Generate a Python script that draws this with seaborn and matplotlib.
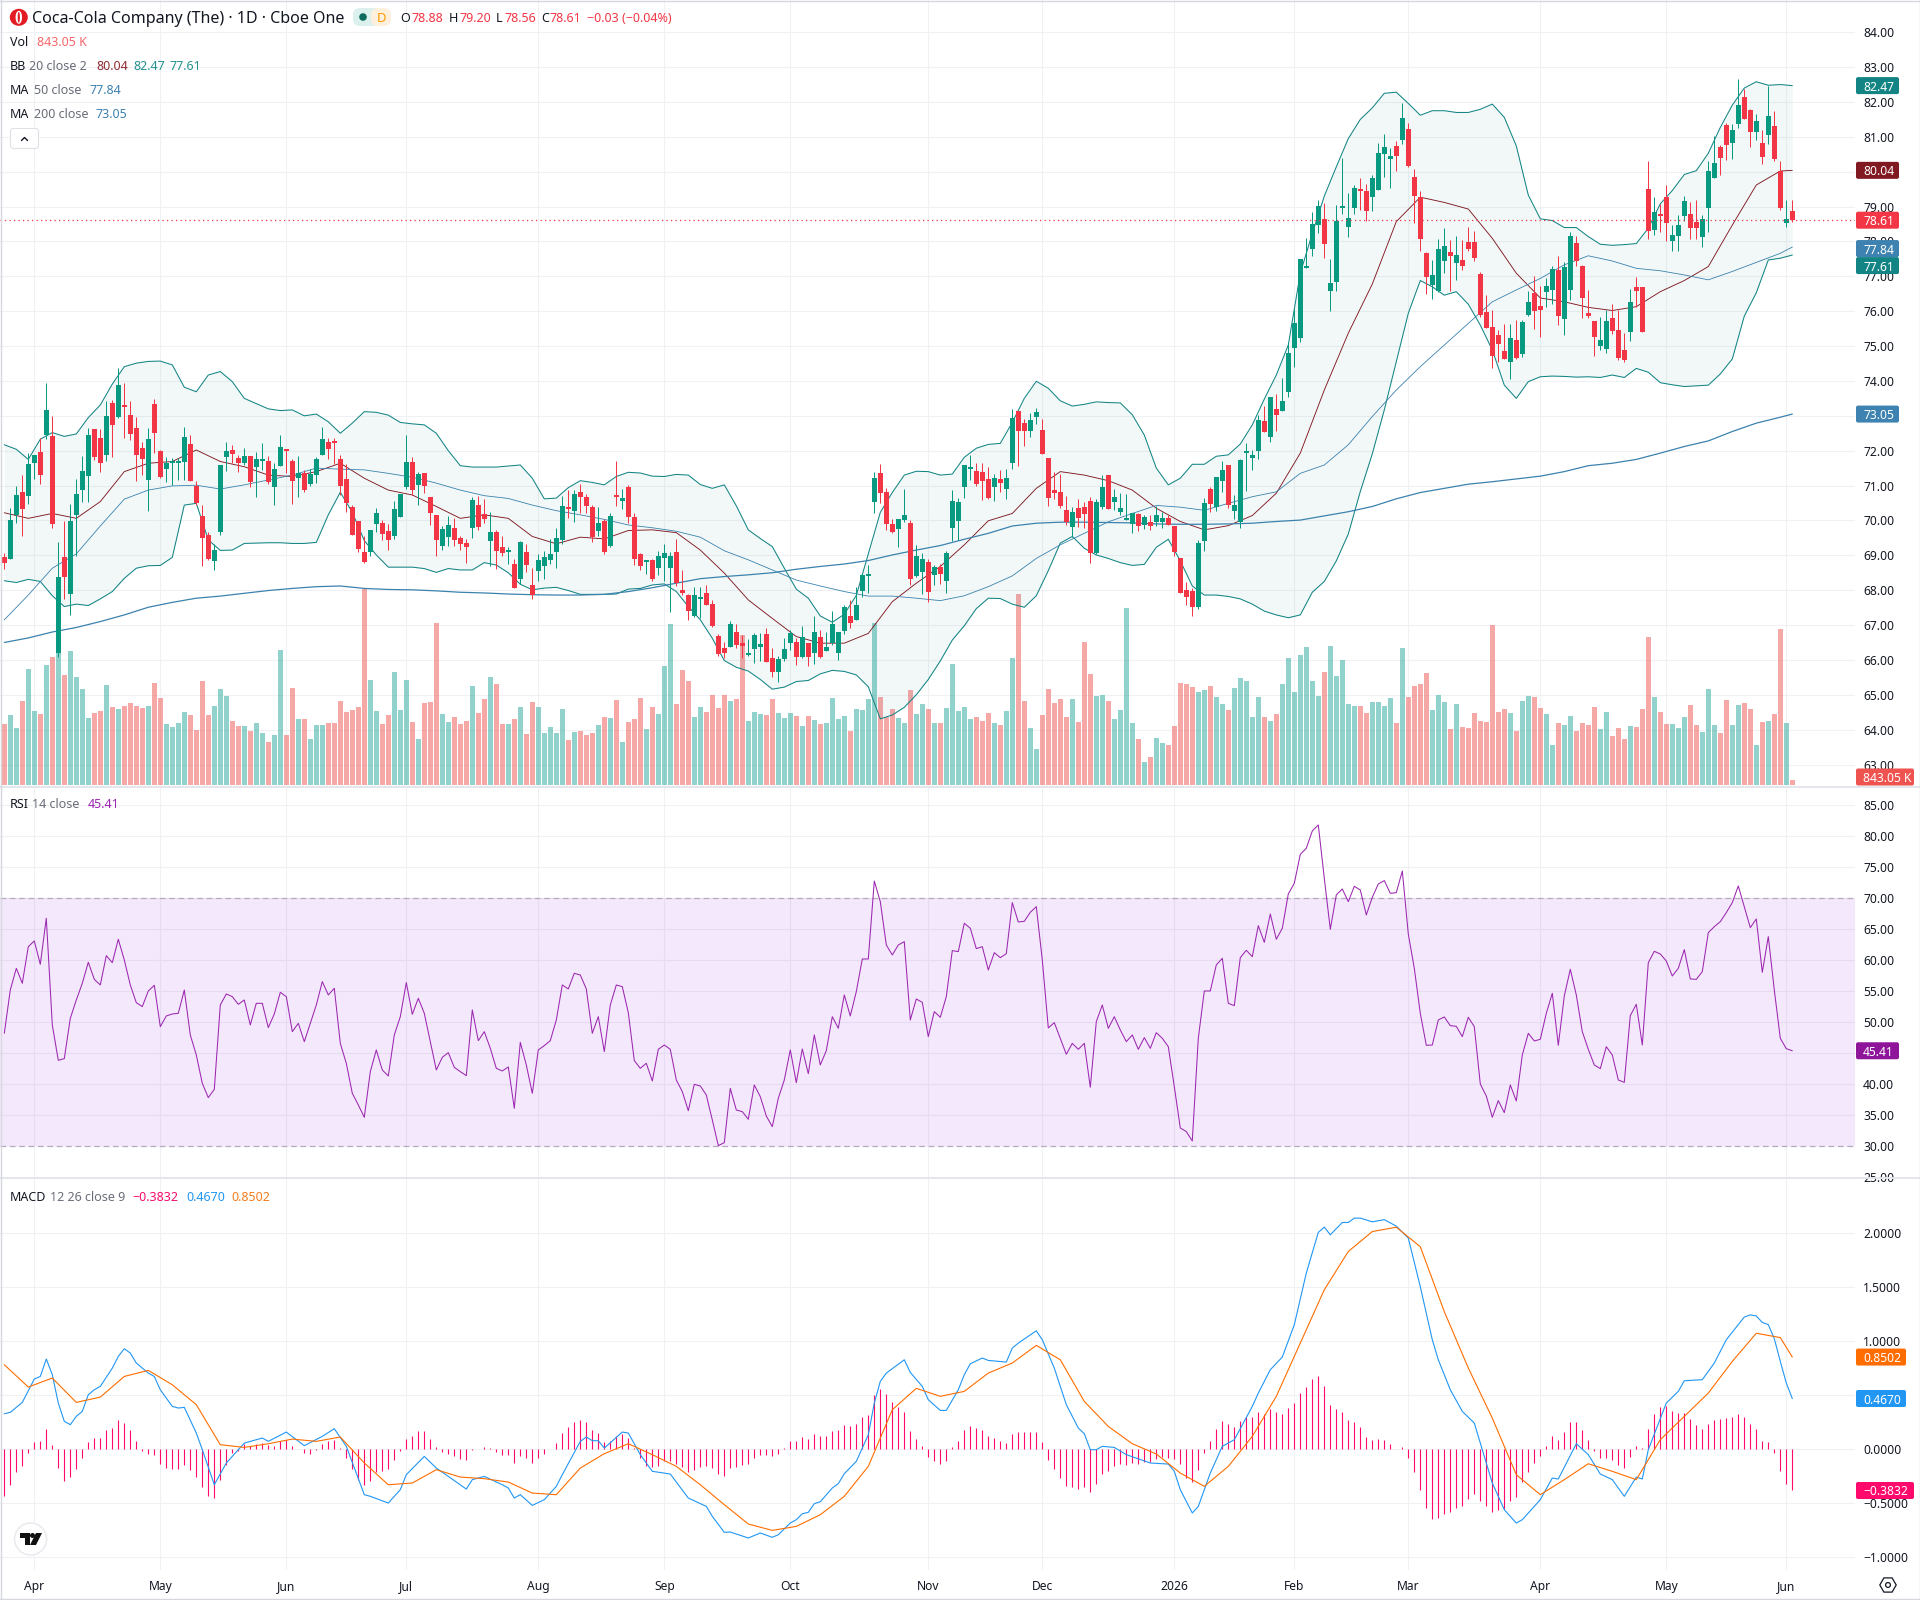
import matplotlib
matplotlib.use("Agg")
import matplotlib.pyplot as plt
import numpy as np
import pandas as pd
import seaborn as sns
from matplotlib.lines import Line2D
from matplotlib.patches import Circle, Ellipse, FancyBboxPatch, Polygon, RegularPolygon
from matplotlib.transforms import IdentityTransform

# Daily OHLC for KO, oldest session first
opens = [
68.95,68.90,70.16,70.81,70.71,71.66,71.96,72.45,72.42,66.21,
68.95,67.90,70.16,70.87,71.28,72.62,72.37,71.88,73.37,72.98,
73.28,73.03,72.65,72.08,71.16,73.34,71.99,71.48,71.65,71.65,
71.68,72.19,71.00,70.13,69.58,68.84,69.67,71.82,72.02,71.79,
71.65,71.85,71.53,71.71,71.71,70.96,71.56,72.02,71.71,71.22,
71.36,71.05,71.30,71.88,72.25,72.25,71.76,71.19,70.39,69.99,
69.10,69.10,69.90,69.93,69.70,69.56,70.10,70.96,71.68,71.02,
71.36,70.67,70.16,69.27,69.53,69.78,69.50,69.36,69.78,70.44,
70.19,69.41,69.67,69.24,69.10,68.75,68.32,69.10,68.15,68.55,
68.70,68.87,69.10,69.44,70.36,70.27,70.82,70.67,70.39,69.70,
69.99,69.27,70.72,70.56,70.96,70.10,69.04,68.82,68.87,68.64,
68.92,68.64,69.10,68.00,67.86,67.26,67.75,67.92,67.60,66.69,
66.34,66.37,66.80,66.49,66.14,66.32,66.37,66.74,66.06,65.65,
66.03,66.49,66.52,66.09,66.49,66.20,66.66,66.26,66.49,66.20,
66.83,67.26,67.15,67.98,68.41,70.53,71.36,70.82,69.90,69.76,
70.01,69.93,68.41,68.52,68.81,68.44,68.67,68.27,69.78,69.99,
70.96,71.48,71.42,71.39,71.19,70.96,71.19,70.90,71.65,73.14,
72.80,72.57,72.97,72.60,71.79,70.87,70.82,70.30,69.81,70.36,
70.39,70.56,69.07,70.39,71.30,70.53,70.24,70.01,69.90,70.19,
69.87,69.96,69.96,69.96,70.07,69.84,68.92,68.00,67.98,67.52,
69.41,70.90,70.39,71.13,71.59,70.27,69.96,71.94,71.79,71.99,
72.85,72.39,73.20,73.14,73.69,74.95,75.22,77.24,77.78,78.47,
78.64,76.58,76.84,78.96,78.41,78.96,79.48,79.45,79.27,79.48,
80.51,80.37,80.74,80.91,81.22,79.85,79.28,77.67,76.75,76.58,
77.44,77.70,77.38,77.47,77.99,77.99,77.07,75.98,75.55,75.32,
74.86,74.54,75.17,74.77,75.89,76.52,76.15,76.55,76.61,77.18,
75.78,76.61,77.96,77.30,75.95,75.72,75.00,74.92,75.80,75.46,
74.89,75.40,76.69,76.69,79.50,78.33,78.79,79.28,78.01,78.16,
78.73,78.79,78.56,78.13,78.96,79.82,80.71,81.34,80.82,81.37,
82.14,81.77,81.14,80.82,81.05,81.31,80.02,78.53,78.88]
highs = [
69.06,70.35,70.99,71.30,71.93,71.88,72.36,73.94,73.00,69.37,
69.97,70.47,71.18,71.85,72.64,72.62,72.62,73.43,73.46,74.36,
73.94,73.43,72.98,72.25,72.65,73.48,72.02,71.82,71.80,71.80,
72.68,72.45,71.13,70.44,69.68,69.33,71.59,72.25,72.17,71.88,
72.09,71.85,71.96,72.21,71.85,71.64,72.45,72.02,71.76,71.85,
71.45,71.48,71.82,72.68,72.37,72.37,71.88,71.62,70.44,69.99,
69.56,69.73,70.36,70.01,69.90,70.56,70.76,72.45,71.82,71.39,
71.36,70.67,70.16,69.84,70.13,70.07,69.56,69.47,70.67,70.70,
70.62,70.24,69.73,69.56,69.24,68.89,69.41,69.33,68.64,69.04,
69.13,69.47,69.78,70.70,70.87,70.87,71.05,70.76,70.44,70.39,
70.04,70.21,71.71,70.90,71.02,70.21,69.07,68.87,68.90,69.13,
69.33,69.10,69.47,68.58,67.89,68.09,68.09,68.15,67.72,66.74,
66.52,67.12,67.03,66.72,66.60,66.77,66.77,66.92,66.34,66.11,
66.63,66.86,66.63,66.97,66.49,67.26,66.86,66.80,67.40,66.80,
67.58,67.72,68.09,68.49,68.72,71.39,71.62,70.93,70.04,70.04,
70.90,70.01,69.30,69.07,68.90,68.72,68.75,69.13,70.87,70.64,
71.59,71.88,71.65,71.65,71.53,71.33,71.45,71.48,73.20,73.14,
72.91,73.08,73.23,72.91,71.79,71.39,71.33,70.70,70.39,70.62,
70.53,70.67,70.62,71.30,71.30,70.90,70.79,70.76,70.21,70.21,
70.16,70.16,70.42,70.24,70.16,69.84,68.92,68.24,68.06,69.44,
70.65,70.96,71.25,71.71,71.59,70.73,71.76,72.22,72.02,73.03,
73.28,73.54,73.63,74.09,75.05,76.05,77.50,78.09,78.85,79.19,
79.09,77.50,79.05,80.40,79.39,79.62,79.82,79.65,79.90,80.82,
81.08,80.68,80.88,81.97,81.40,80.08,79.45,77.70,77.47,78.07,
78.39,78.04,78.16,78.04,78.41,78.30,77.12,76.46,76.03,75.46,
75.63,75.63,75.75,75.75,76.58,77.01,76.72,76.95,77.30,77.58,
77.41,78.27,78.16,77.33,76.61,75.72,75.83,76.03,76.21,76.03,
75.37,76.64,76.98,76.69,80.31,79.28,79.08,79.62,78.47,78.76,
79.30,79.13,79.19,78.76,80.31,81.02,80.77,81.40,81.37,82.66,
82.37,81.80,81.66,81.20,82.46,81.74,80.31,79.19,79.20]
lows = [
68.62,68.90,69.92,69.54,70.47,71.19,71.05,72.33,69.79,66.07,
67.76,67.30,68.99,70.54,70.53,71.72,71.39,71.71,71.82,72.93,
72.37,72.31,71.13,71.30,70.27,71.93,71.22,71.10,71.02,71.16,
71.16,71.13,70.44,68.70,68.87,68.58,69.58,71.42,71.64,71.40,
71.59,70.97,70.67,71.45,71.05,70.44,71.56,71.35,70.47,70.67,
70.82,70.99,71.07,71.88,71.76,71.61,70.73,70.24,69.58,69.10,
68.78,68.98,69.67,69.44,69.15,69.47,70.10,70.90,70.73,70.44,
70.79,69.87,68.98,69.15,69.27,69.27,69.15,68.78,69.50,69.73,
69.93,68.70,68.61,68.98,68.75,68.06,68.18,68.52,67.75,68.27,
68.32,68.75,68.64,69.33,70.07,69.96,70.21,70.21,69.38,69.56,
69.04,69.24,70.42,70.33,69.93,68.72,68.58,68.47,68.27,68.44,
68.27,67.38,68.12,67.86,67.15,67.23,67.20,67.58,66.95,66.11,
66.06,66.37,66.34,66.06,66.11,65.91,65.97,65.94,65.51,65.37,
65.97,66.29,65.86,66.06,65.83,65.88,66.06,66.26,66.43,66.00,
66.74,66.92,67.15,67.80,67.92,70.21,70.50,69.73,69.64,69.24,
69.96,68.15,68.38,67.89,67.66,68.15,68.18,67.92,69.41,69.44,
70.65,71.16,70.99,70.59,70.62,70.56,70.82,70.62,71.48,71.56,
72.14,72.39,72.77,71.91,70.42,70.62,70.36,69.87,69.53,69.81,
69.78,68.78,69.04,70.33,70.33,70.30,70.16,70.01,69.64,69.70,
69.76,69.73,69.84,69.78,69.87,68.98,67.92,67.58,67.26,67.46,
69.13,70.24,70.27,70.82,70.36,70.04,69.78,70.83,71.45,71.76,
72.54,72.25,72.57,73.14,73.54,74.40,75.13,77.24,77.59,78.24,
77.53,76.00,76.59,78.79,78.13,78.79,78.90,78.59,78.87,79.48,
79.85,79.53,80.02,80.80,80.14,78.53,77.73,76.49,76.35,76.55,
77.10,76.58,76.90,77.18,77.73,77.44,75.83,75.52,74.37,74.54,
74.63,74.06,74.63,74.69,75.86,75.49,75.26,76.12,76.21,75.60,
75.32,76.32,77.30,75.80,75.80,74.72,74.89,74.80,75.34,74.60,
74.54,75.15,76.12,75.40,78.07,78.19,78.27,78.01,77.73,77.73,
78.59,78.07,78.07,77.84,78.27,79.82,79.91,80.34,80.37,81.25,
81.51,80.71,80.91,80.22,80.80,80.31,78.90,78.42,78.56]
closes = [
68.79,70.01,70.73,70.33,71.62,71.88,71.30,73.17,69.90,68.38,
68.38,69.97,70.76,71.42,72.45,71.82,71.65,73.00,72.74,73.89,
73.25,72.48,71.88,71.76,72.34,72.51,71.25,71.65,71.71,71.71,
72.39,71.13,70.49,69.50,68.90,69.15,71.59,71.99,71.91,71.65,
71.85,71.10,71.76,71.76,71.10,71.48,72.11,71.99,71.13,71.36,
70.87,71.33,71.76,72.34,72.05,72.22,70.99,70.50,69.58,69.18,
68.81,69.73,70.21,69.61,69.44,70.33,70.76,71.68,70.87,71.33,
70.99,70.21,69.44,69.76,69.87,69.44,69.33,69.24,70.59,69.81,
70.04,69.67,69.13,69.07,69.15,68.06,69.38,68.72,67.86,68.87,
68.95,69.04,69.50,70.42,70.33,70.76,70.67,70.42,69.53,69.93,
69.10,70.13,70.68,70.65,70.10,68.90,68.70,68.85,68.32,68.98,
69.07,68.98,68.21,67.92,67.40,67.86,67.81,67.58,66.98,66.17,
66.20,67.03,66.43,66.40,66.20,66.72,66.46,65.94,65.65,66.03,
66.32,66.77,66.09,66.66,66.09,66.80,66.09,66.37,67.03,66.80,
67.52,67.06,67.58,68.44,68.44,71.22,70.79,69.90,69.67,70.04,
70.16,68.32,68.98,68.90,67.95,68.67,68.47,69.07,70.56,70.53,
71.59,71.51,71.05,71.13,70.65,71.22,71.07,71.22,72.94,72.57,
72.57,72.88,73.11,71.91,70.65,70.79,70.42,69.96,70.24,70.07,
70.19,69.07,70.53,70.96,70.33,70.67,70.36,70.04,70.21,69.84,
70.10,69.84,70.16,70.07,69.87,69.10,67.92,67.80,67.52,69.35,
70.50,70.47,71.25,71.45,70.44,70.44,71.73,72.00,71.88,72.88,
72.54,73.54,73.03,73.43,74.80,75.65,77.50,77.31,78.50,79.02,
77.93,76.81,78.59,79.00,78.67,79.53,79.45,78.87,79.82,80.54,
80.71,80.45,80.45,81.54,80.17,79.30,78.07,76.98,77.04,77.78,
77.87,77.58,77.61,77.30,77.78,77.53,75.89,75.52,74.72,75.06,
74.63,75.23,74.66,75.69,76.26,76.00,76.03,76.72,77.21,75.86,
77.27,78.16,77.44,76.38,75.86,75.26,75.17,75.72,75.43,74.66,
74.60,76.26,76.58,75.40,78.30,78.85,78.73,78.53,78.19,78.47,
79.16,78.39,78.39,78.64,80.02,80.25,80.40,80.77,81.20,81.91,
81.51,81.14,81.46,80.42,81.60,80.37,78.96,78.64,78.61]
# Session volume in millions of shares
volumes = [
10.28,11.80,9.61,14.16,19.56,12.48,11.97,20.23,21.58,22.26,
18.55,22.59,18.21,16.19,11.30,12.14,12.48,16.86,13.15,12.81,
13.32,13.83,13.32,12.98,13.32,17.20,14.67,10.28,9.78,10.45,
12.31,11.80,9.27,17.53,11.80,13.32,16.19,15.00,10.79,9.95,
9.95,9.10,10.45,8.77,7.25,8.43,22.76,8.43,16.35,11.13,
11.13,7.76,10.12,10.12,10.45,10.45,14.16,12.31,12.65,13.15,
33.10,17.70,12.48,10.28,11.80,19.05,12.65,17.70,10.62,7.76,
13.83,13.99,27.31,11.97,10.62,11.46,10.28,10.79,16.69,12.14,
14.50,18.21,17.03,10.28,10.28,11.13,13.15,8.60,13.99,13.15,
8.77,9.78,8.77,12.81,7.59,8.94,9.10,8.43,8.77,10.12,
11.46,11.30,14.33,7.25,10.62,11.13,14.67,9.44,13.15,11.97,
20.06,27.14,13.66,19.39,17.53,11.46,13.15,12.31,15.17,12.98,
15.17,14.16,14.50,25.29,10.79,12.31,11.97,11.80,14.50,12.14,
11.30,12.14,11.63,9.95,11.63,10.96,10.28,10.45,14.67,11.13,
11.63,9.10,12.81,12.65,14.50,27.31,14.84,11.46,12.81,11.30,
10.45,16.02,11.97,13.66,12.81,10.45,10.45,12.98,20.40,12.48,
13.15,11.13,11.46,10.79,12.14,10.45,10.12,12.48,21.41,32.20,
14.16,9.61,6.07,11.80,16.19,13.83,14.50,11.46,14.50,10.62,
24.11,18.71,15.00,15.17,14.16,11.13,12.65,29.84,10.45,7.76,
3.88,4.72,7.92,7.08,6.74,9.95,17.20,17.03,16.52,15.68,
16.02,16.69,14.84,13.66,12.65,16.35,18.04,17.53,11.46,14.84,
11.46,10.79,11.97,17.03,21.41,15.68,21.92,23.27,17.53,15.00,
19.05,23.44,18.38,21.08,13.66,13.32,13.32,12.14,13.99,13.99,
13.32,14.67,10.45,23.10,14.84,16.69,17.03,18.88,12.65,15.17,
13.99,9.44,13.66,9.78,9.61,12.14,10.79,10.62,26.98,12.31,
12.81,12.14,9.10,14.16,15.00,14.84,12.98,11.97,6.74,10.45,
10.12,11.63,9.10,10.45,10.12,13.15,9.44,12.31,8.26,9.61,
7.76,9.95,9.78,12.81,24.95,14.84,12.31,10.28,10.28,9.61,
11.46,13.49,10.12,8.94,16.19,10.12,8.77,14.33,10.12,13.49,
13.83,12.81,6.74,10.62,10.79,11.97,26.30,10.45,0.84305]

# Bollinger envelope, every second session
band_sessions = list(range(0, 299, 2))
bb_upper = [
72.17,72.04,71.75,72.33,72.52,72.41,72.48,72.95,73.31,73.91,74.41,74.51,74.56,74.57,74.46,73.82,73.69,74.17,74.27,73.98,
73.50,73.35,73.20,73.15,73.17,73.00,73.05,72.83,72.50,72.79,73.12,73.10,73.02,72.81,72.77,72.74,72.50,72.00,71.57,71.53,
71.53,71.53,71.56,71.59,71.21,70.62,70.64,70.94,71.14,71.09,71.02,71.26,71.38,71.36,71.27,71.26,71.32,71.30,71.03,70.92,
71.02,70.42,69.73,69.48,69.25,68.63,68.03,67.77,67.26,67.08,67.31,67.85,69.04,70.23,70.80,71.30,71.41,71.40,71.30,71.33,
71.81,72.07,72.18,72.21,72.81,73.50,73.99,73.79,73.43,73.28,73.33,73.40,73.38,73.37,73.03,72.45,71.50,71.02,71.21,71.61,
71.61,71.84,71.88,72.19,72.74,73.48,74.17,75.03,
77.09,78.23,79.30,80.14,80.95,81.50,81.83,82.25,82.28,81.96,81.62,81.75,81.75,81.70,81.70,81.79,81.94,81.56,80.74,79.33,
78.65,78.60,78.40,78.40,78.14,77.92,77.89,77.91,77.94,78.38,79.08,79.46,79.92,80.03,80.53,81.27,81.91,82.40,82.58,82.48,82.50,82.47]
bb_lower = [
68.27,68.22,68.31,68.25,67.84,67.53,67.60,67.56,67.75,67.96,68.34,68.63,68.70,68.71,68.94,70.44,70.49,69.44,69.14,69.15,
69.34,69.35,69.36,69.36,69.34,69.34,69.37,70.16,70.81,70.23,69.42,69.01,68.66,68.66,68.66,68.62,68.51,68.62,68.58,68.58,
68.79,68.72,68.50,68.17,68.01,68.06,68.08,67.99,67.88,67.88,67.88,67.89,68.03,68.05,68.15,68.18,67.96,67.53,67.15,66.62,
65.98,65.79,65.68,65.44,65.16,65.22,65.38,65.41,65.60,65.70,65.67,65.57,65.23,64.31,64.42,64.64,65.00,65.44,65.97,66.57,
66.98,67.47,67.77,67.76,67.60,67.51,67.84,68.56,69.35,69.54,69.20,69.01,68.91,68.79,68.71,68.74,69.23,69.46,68.84,68.12,
67.86,67.86,67.82,67.75,67.60,67.40,67.29,67.21,67.29,67.94,68.25,68.84,69.61,70.83,71.91,73.17,74.56,
75.94,76.88,76.70,76.46,76.56,76.20,75.60,74.89,73.88,73.50,73.98,74.12,74.14,74.13,74.11,74.12,74.10,74.17,74.10,74.36,
74.25,73.95,73.89,73.84,73.86,73.88,74.20,74.63,75.86,76.53,77.47,77.52,77.61]

# Mid band and moving averages, every fourth session plus the latest one
overlay_sessions = list(range(0, 297, 4)) + [298]
bb_basis = [
70.22,70.06,70.20,70.06,70.54,71.40,71.64,71.69,72.02,71.69,71.54,71.30,71.26,71.40,71.64,71.21,70.87,70.73,70.40,70.06,
70.16,70.06,69.54,69.33,69.52,69.47,69.71,69.73,69.65,69.15,68.49,67.72,67.19,66.67,66.48,66.48,66.76,67.67,68.20,68.68,
69.30,69.99,70.20,70.92,71.40,71.30,71.14,70.87,70.35,69.97,69.73,69.85,70.14,70.78,71.93,73.74,
75.37,76.78,78.57,79.27,79.12,78.93,78.09,77.09,76.38,76.27,76.11,76.02,76.13,76.56,76.88,77.28,78.47,79.62,80.02,80.04]
ma50 = [
67.15,67.86,68.63,69.04,69.84,70.61,70.87,70.99,71.01,70.90,71.02,71.16,71.30,71.50,71.47,71.45,71.35,71.24,71.07,70.87,
70.71,70.63,70.44,70.28,70.16,70.03,69.87,69.79,69.69,69.52,69.13,68.87,68.58,68.29,68.12,67.96,67.83,67.83,67.77,67.70,
67.84,68.10,68.41,68.91,69.30,69.63,69.96,70.20,70.43,70.38,70.29,70.49,70.68,70.82,71.35,71.59,72.17,72.98,73.74,
74.41,75.03,75.65,76.27,76.61,76.94,77.33,77.59,77.44,77.23,77.16,77.04,76.90,77.14,77.40,77.66,77.84]
ma200 = [
66.50,66.63,66.80,66.93,67.10,67.29,67.51,67.65,67.77,67.83,67.91,67.99,68.05,68.10,68.12,68.05,68.02,68.01,67.98,67.94,
67.92,67.89,67.87,67.86,67.86,67.88,67.96,68.07,68.20,68.33,68.39,68.44,68.50,68.60,68.68,68.75,68.85,69.01,69.15,69.28,
69.46,69.63,69.84,69.92,69.95,69.95,69.94,69.93,69.90,69.89,69.89,69.90,69.92,69.97,70.01,70.13,70.25,70.40,70.62,70.80,
70.92,71.04,71.11,71.19,71.27,71.40,71.57,71.64,71.75,71.93,72.12,72.28,72.55,72.79,72.96,73.05]

rsi = [
48.23,55.21,58.71,56.29,62.20,63.12,59.35,66.77,49.57,43.87,
44.14,50.64,53.60,56.29,59.68,56.93,56.02,60.75,59.62,63.39,
60.05,56.02,53.17,52.53,55.05,55.97,49.30,51.02,51.34,51.45,
55.21,47.96,44.73,40.16,37.85,39.19,52.79,54.57,54.14,52.90,
53.60,49.57,53.06,53.06,49.14,51.34,54.84,54.14,48.49,49.84,
46.88,49.84,52.79,56.56,54.41,55.48,46.61,43.39,38.55,36.67,
34.68,42.04,45.54,42.31,41.34,47.96,50.91,56.40,51.29,53.87,
51.45,46.88,42.31,44.35,45.11,42.74,42.04,41.40,51.99,47.04,
48.49,45.80,42.58,42.15,42.80,36.13,46.77,43.12,38.55,45.54,
46.24,47.04,50.38,56.02,55.38,57.90,57.63,55.38,48.23,50.91,
45.27,52.79,56.02,55.75,51.56,43.82,42.58,43.39,40.54,45.64,
46.34,45.64,40.70,38.82,35.75,40.00,39.73,38.28,34.25,30.11,
30.59,39.35,35.86,35.59,34.36,39.89,38.01,34.89,33.17,37.74,
40.70,45.54,40.27,45.70,41.72,47.96,43.12,45.43,50.91,49.03,
54.41,51.02,54.95,60.21,60.21,72.79,69.46,62.47,60.86,62.47,
63.01,50.38,53.76,53.22,47.69,51.72,50.81,54.14,61.56,61.40,
65.97,65.16,61.88,62.20,58.44,61.23,60.43,61.07,69.30,66.18,
66.29,67.74,68.65,60.05,49.09,49.95,47.42,44.84,46.61,45.64,
46.61,39.52,50.11,52.79,49.03,50.91,48.76,46.88,47.96,45.64,
47.53,45.80,48.33,47.42,46.07,39.62,32.96,32.37,30.86,47.42,
55.05,55.05,59.25,60.32,53.06,52.69,60.43,61.61,60.59,65.59,
62.90,67.47,63.39,65.16,70.70,72.42,77.09,78.06,80.86,81.83,
73.22,65.00,70.54,71.50,69.46,71.93,71.34,67.31,70.16,72.31,
72.85,70.80,70.91,74.41,64.25,58.71,51.45,46.29,46.34,50.38,
50.86,49.46,49.35,47.69,50.81,49.30,40.05,38.12,34.68,37.37,
35.43,39.89,37.31,44.73,48.23,46.99,47.26,51.45,54.68,46.29,
54.25,58.55,54.41,48.49,45.64,43.12,42.53,46.07,44.73,40.70,
40.32,51.08,52.90,46.34,59.62,61.45,61.02,59.89,57.47,58.71,
61.72,56.99,56.93,58.17,64.46,65.43,66.23,67.69,69.30,71.99,
68.65,65.27,66.67,58.06,63.82,55.21,47.42,45.75,45.41]

macd_hist = [
-.431,-.330,-.209,-.154,-.037,.062,.071,.188,.040,-.172,
-.293,-.256,-.182,-.080,.062,.099,.099,.172,.191,.265,
.243,.172,.071,-.022,-.043,-.052,-.136,-.172,-.182,-.182,
-.145,-.191,-.256,-.348,-.431,-.450,-.283,-.145,-.037,-.022,
.049,.025,.049,.059,.040,.025,.077,.086,.025,.003,
-.040,-.043,-.012,.049,.071,.080,.009,-.080,-.182,-.283,
-.330,-.293,-.209,-.200,-.182,-.105,-.022,.095,.123,.163,
.163,.095,.015,-.028,-.043,-.068,-.089,-.105,-.012,-.003,
.018,.009,-.031,-.052,-.059,-.126,-.068,-.080,-.126,-.080,
-.043,.000,.059,.151,.206,.253,.271,.253,.179,.145,
.062,.077,.117,.139,.105,.010,-.080,-.154,-.169,-.154,
-.114,-.114,-.136,-.166,-.209,-.191,-.169,-.160,-.176,-.228,
-.246,-.179,-.169,-.148,-.136,-.080,-.052,-.052,-.068,-.043,
.009,.077,.071,.114,.095,.142,.123,.123,.169,.179,
.225,.216,.234,.299,.317,.502,.557,.511,.437,.391,
.345,.169,.095,.031,-.077,-.108,-.136,-.108,.015,.077,
.179,.216,.197,.179,.123,.105,.077,.059,.142,.160,
.160,.160,.160,.068,-.099,-.182,-.265,-.339,-.354,-.367,
-.348,-.394,-.320,-.228,-.200,-.154,-.136,-.145,-.126,-.136,
-.117,-.117,-.089,-.077,-.086,-.089,-.136,-.265,-.302,-.191,
-.034,.077,.188,.262,.234,.206,.262,.299,.299,.345,
.326,.373,.345,.326,.382,.428,.521,.576,.650,.678,
.585,.410,.373,.345,.271,.253,.206,.114,.086,.092,
.086,.049,.003,.018,-.080,-.209,-.376,-.542,-.644,-.634,
-.598,-.579,-.542,-.524,-.459,-.413,-.477,-.524,-.579,-.561,
-.551,-.477,-.440,-.308,-.209,-.126,-.062,.031,.123,.086,
.160,.253,.253,.179,.086,-.015,-.080,-.080,-.099,-.145,
-.172,-.071,.031,.012,.188,.326,.391,.400,.354,.336,
.336,.280,.225,.188,.234,.271,.280,.290,.299,.326,
.299,.234,.188,.077,.068,-.034,-.200,-.320,-.3832]

macd_sessions = [
0,1,3,5,6,7,8,9,10,11,12,13,14,15,16,18,19,20,21,22,24,25,26,28,29,30,32,33,35,37,
40,43,44,47,50,53,55,57,60,61,64,66,67,70,72,74,77,78,80,83,84,85,86,88,90,92,93,96,97,98,
99,100,103,104,106,108,111,114,117,118,120,121,124,126,128,129,131,132,133,134,135,136,138,139,140,142,144,145,146,147,
150,151,153,154,156,157,159,160,161,163,164,167,168,169,172,173,175,177,179,180,181,182,183,185,187,191,194,195,196,198,
199,201,203,205,208,209,211,213,215,217,219,220,221,223,224,225,226,228,230,232,234,236,238,239,241,243,245,246,248,250,
252,253,256,258,259,262,264,266,268,270,272,273,274,277,279,280,283,285,287,288,290,291,292,293,294,295,296,297,298]
macd_line = [
.326,.339,.431,.647,.671,.832,.687,.425,.256,.225,.302,.348,.502,.548,.579,.748,.856,.927,.887,.795,.702,.671,.548,.394,.379,.385,.148,-.006,-.330,-.129,
.055,.102,.071,.157,.031,.117,.188,.025,-.422,-.437,-.499,-.376,-.237,-.068,-.176,-.253,-.370,-.283,-.253,-.330,-.360,-.453,-.422,-.521,-.468,-.345,-.237,.071,.111,.077,
.077,.009,.157,.148,-.052,-.206,-.231,-.453,-.530,-.622,-.770,-.767,-.822,-.776,-.816,-.792,-.684,-.653,-.598,-.585,-.505,-.487,-.360,-.320,-.228,-.114,.132,.425,.625,.702,
.825,.708,.579,.456,.357,.357,.548,.687,.788,.841,.819,.804,.933,.979,1.093,1.010,.748,.410,.194,.142,-.006,-.006,.025,.015,-.052,-.129,-.139,-.206,-.376,-.591,
-.530,-.222,.025,.086,.394,.517,.733,.850,1.149,1.626,2.002,2.051,1.980,2.094,2.094,2.134,2.134,2.100,2.120,2.060,1.950,1.500,1.010,.825,.548,.348,.240,.055,-.314,-.561,
-.684,-.653,-.468,-.268,-.277,.049,-.052,-.231,-.283,-.437,-.259,-.277,-.006,.425,.533,.631,.641,.795,1.010,1.080,1.220,1.240,1.230,1.170,1.150,1.020,.810,.610,.4670]
signal_sessions = list(range(0, 297, 4)) + [298]
signal_line = [
.779,.573,.656,.431,.480,.671,.727,.594,.410,.040,.015,.049,.092,.071,.111,-.129,-.330,-.314,-.191,-.259,-.274,-.305,-.407,-.422,-.176,-.043,.049,
-.052,-.160,-.330,-.514,-.693,-.752,-.715,-.607,-.437,-.160,.363,.561,.487,.533,.702,.795,.958,.825,.440,.209,.049,-.046,-.222,-.345,-.160,.117,.487,.979,1.472,1.826,
2.010,2.050,1.870,1.270,.749,.286,-.237,-.422,-.283,-.136,-.206,-.283,.086,.302,.517,.810,1.070,1.030,.8502]

# Month boundaries on the session axis
month_sessions = [5, 26, 47, 67, 89, 110, 131, 154, 173, 195, 215, 234, 256, 277, 297]
month_labels = ["Apr", "May", "Jun", "Jul", "Aug", "Sep", "Oct", "Nov", "Dec", "2026", "Feb", "Mar", "Apr", "May", "Jun"]
price_ticks = list(range(63, 85))
rsi_ticks = list(range(25, 90, 5))
macd_ticks = [-1.0, -0.5, 0.0, 0.5, 1.0, 1.5, 2.0]

UP, DOWN = "#089981", "#f23645"
VOL_UP, VOL_DOWN = "#26a69a", "#ef5350"
BB_BAND, BB_MID, MA_BLUE = "#138484", "#801922", "#3b82ae"
INK, MUTED, GRID = "#131722", "#6a6d78", "#f0f1f4"
MACD_BLUE, SIGNAL_ORANGE, HIST_PINK, RSI_PURPLE = "#2196f3", "#ff6d00", "#ff0a6c", "#9c27b0"
FS = 8.7
LEGEND_FS = 9.0

sns.set_theme(style="white")
plt.rcParams["font.family"] = ["Noto Sans", "DejaVu Sans"]
plt.rcParams["axes.linewidth"] = 0

W, H = 1920, 1600
PLOT_RIGHT = 1855
fig = plt.figure(figsize=(W / 100, H / 100), dpi=100, facecolor="white")

def pane(top, bottom):
    return fig.add_axes([0, 1 - bottom / H, PLOT_RIGHT / W, (bottom - top) / H])

sessions = np.arange(len(closes))
xlim = (-4.3 / 6, (PLOT_RIGHT - 4.3) / 6)
PRICE_LIM = (62.384, 84.925)
ax_grid = pane(0, 786)
ax_price = pane(0, 786)
ax_rsi = pane(786, 1178)
ax_macd = pane(1178, 1570)

def style_axis(ax, ylim, ticks, fmt, grid=True):
    ax.set_facecolor("none")
    ax.set_xlim(*xlim)
    ax.set_ylim(*ylim)
    ax.set_xticks(month_sessions)
    ax.set_xticklabels([])
    ax.yaxis.tick_right()
    ax.set_yticks(ticks)
    ax.set_yticklabels([fmt(t).replace("-", "\u2212") for t in ticks], fontsize=FS, color=INK)
    ax.tick_params(axis="y", length=0, pad=5.8)
    ax.tick_params(axis="x", length=0)
    if grid:
        ax.grid(True, color=GRID, linewidth=0.8)
    else:
        ax.grid(False)
    ax.set_axisbelow(True)
    ax.set_xlabel("")
    ax.set_ylabel("")

def line(ax, xs, ys, color, width, z=3):
    sns.lineplot(x=xs, y=ys, ax=ax, color=color, linewidth=width, estimator=None,
                 errorbar=None, sort=False, zorder=z)

# Grid plane sits under the translucent volume bars
style_axis(ax_grid, PRICE_LIM, price_ticks, lambda t: "")
ax_grid.set_facecolor("white")
ax_grid.set_zorder(0)

# Volume has its own scale below the candles
ax_vol = ax_price.twinx()
direction = ["up" if c >= o else "down" for o, c in zip(opens, closes)]
frame = pd.DataFrame({"session": sessions, "volume": volumes, "direction": direction})
sns.barplot(data=frame, x="session", y="volume", hue="direction", ax=ax_vol,
            palette={"up": VOL_UP, "down": VOL_DOWN}, native_scale=True, dodge=False,
            width=0.84, alpha=0.5, linewidth=0, saturation=1, legend=False)
ax_vol.set_xlim(*xlim)
ax_vol.set_ylim(-1 / 5.93, 785 / 5.93)
ax_vol.set_yticks([])
ax_vol.set_ylabel("")
ax_vol.set_zorder(1)
ax_vol.patch.set_visible(False)
ax_vol.grid(False)
ax_price.set_zorder(2)

style_axis(ax_price, PRICE_LIM, price_ticks, lambda t: f"{t:.2f}", grid=False)

# Bollinger band, moving averages
ax_price.fill_between(band_sessions, bb_lower, bb_upper, color=BB_BAND, alpha=0.055, linewidth=0, zorder=1)
line(ax_price, band_sessions, bb_upper, BB_BAND, 0.75, 2)
line(ax_price, band_sessions, bb_lower, BB_BAND, 0.75, 2)
line(ax_price, overlay_sessions, bb_basis, BB_MID, 0.65, 2)
line(ax_price, overlay_sessions, ma50, MA_BLUE, 0.6, 2)
line(ax_price, overlay_sessions, ma200, MA_BLUE, 0.9, 2)

# Candles
colors = [UP if d == "up" else DOWN for d in direction]
ax_price.vlines(sessions, lows, highs, colors=colors, linewidth=0.72, zorder=4)
bottoms = [min(o, c) for o, c in zip(opens, closes)]
heights = [max(abs(o - c), 0.05) for o, c in zip(opens, closes)]
ax_price.bar(sessions, heights, bottom=bottoms, width=0.8, color=colors, linewidth=0, zorder=5)
ax_price.axhline(closes[-1], color=DOWN, linewidth=0.9, linestyle=(0, (1, 2.6)), zorder=6)

# RSI
style_axis(ax_rsi, (24.89, 88.11), rsi_ticks, lambda t: f"{t:.2f}")
ax_rsi.axhspan(30, 70, color=(153 / 255, 33 / 255, 242 / 255), alpha=0.1, linewidth=0, zorder=1)
for level in (30, 70):
    ax_rsi.axhline(level, color="#b6a8bf", linewidth=0.9, linestyle=(0, (4.5, 3)), zorder=2)
line(ax_rsi, sessions, rsi, RSI_PURPLE, 0.75)

# MACD
style_axis(ax_macd, (-1.118, 2.505), macd_ticks, lambda t: f"{t:.4f}")
ax_macd.vlines(sessions, 0, macd_hist, colors=HIST_PINK, linewidth=0.8, zorder=2)
line(ax_macd, macd_sessions, macd_line, MACD_BLUE, 0.8, 3)
line(ax_macd, signal_sessions, signal_line, SIGNAL_ORANGE, 0.8, 4)
ax_macd.set_xticklabels(month_labels, fontsize=FS, color=INK)
ax_macd.tick_params(axis="x", pad=7.2)
ax_macd.get_xticklabels()[9].set_fontweight("bold")

# Pixel helpers for the chart furniture
def ptext(x, y, s, color=INK, size=LEGEND_FS, weight="normal", ha="left"):
    fig.text(x / W, 1 - y / H, s, color=color, fontsize=size, fontweight=weight,
             ha=ha, va="center_baseline", zorder=30)

def pbox(x0, y0, x1, y1, face, edge="none", radius=2, lw=0, z=20):
    fig.add_artist(FancyBboxPatch((x0, H - y1), x1 - x0, y1 - y0,
                                  boxstyle=f"round,pad=0,rounding_size={radius}",
                                  facecolor=face, edgecolor=edge, linewidth=lw,
                                  transform=IdentityTransform(), zorder=z))

def pline(xs, ys, color, lw, z=15):
    fig.add_artist(Line2D(xs, [H - y for y in ys], color=color, linewidth=lw,
                          transform=IdentityTransform(), zorder=z))

def tag(ax, value, text, face, x1=1899, shift=0.0):
    y = H - ax.transData.transform((0, value))[1] + shift
    pbox(1856, y - 8.5, x1, y + 8.5, face, z=22 + value / 1000)
    fig.text(1863 / W, 1 - y / H, text, color="white", fontsize=FS, ha="left",
             va="center_baseline", zorder=31)

# Frame and pane separators
for y in (786.5, 1178):
    pline([0, W], [y, y], "#e4e6ec", 1.4)
pline([0.5, 0.5], [0, H], "#d6d8de", 1.0)
pline([0, W], [0.5, 0.5], "#d6d8de", 1.0)
pline([W - 0.5, W - 0.5], [0, H], "#d6d8de", 1.0)
pline([0, W], [1598.5, 1598.5], "#d6d8de", 1.0)

# Price-scale value tags
tag(ax_price, 82.47, "82.47", "#138484")
tag(ax_price, 80.04, "80.04", "#801922")
tag(ax_price, 78.61, "78.61", DOWN)
tag(ax_price, 77.84, "77.84", "#3d82b0", shift=1.5)
tag(ax_price, 77.61, "77.61", "#138484", shift=10.5)
tag(ax_price, 73.05, "73.05", "#3d82b0")
pbox(1856, 768.5, 1914, 785.5, "#ef5350", z=24)
fig.text(1863 / W, 1 - 777 / H, "843.05 K", color="white", fontsize=FS, ha="left", va="center_baseline", zorder=31)
tag(ax_rsi, 45.41, "45.41", "#8e1599")
tag(ax_macd, 0.8502, "0.8502", SIGNAL_ORANGE, x1=1906)
tag(ax_macd, 0.4670, "0.4670", MACD_BLUE, x1=1906)
tag(ax_macd, -0.3832, "\u22120.3832", HIST_PINK, x1=1914)

# Header legend
fig.add_artist(Ellipse((18.8, H - 17.3), 18, 17, facecolor="#e31c23", edgecolor="none",
                       transform=IdentityTransform(), zorder=25))
fig.add_artist(Ellipse((18.8, H - 17.3), 6.5, 13, facecolor="white", edgecolor="none",
                       transform=IdentityTransform(), zorder=26))
fig.add_artist(Ellipse((18.8, H - 17.3), 2.2, 11, facecolor="#e31c23", edgecolor="none",
                       transform=IdentityTransform(), zorder=27))
ptext(32, 17, "Coca-Cola Company (The) \u00b7 1D \u00b7 Cboe One", size=11.55)
pbox(353, 8, 382, 26, "#dcf1ee", radius=7, z=24)
pbox(371, 8, 391, 26, "#fff0de", radius=7, z=24.5)
fig.add_artist(Circle((363, H - 17), 3.8, facecolor="#0b6c5d", edgecolor="none",
                      transform=IdentityTransform(), zorder=26))
ptext(381, 17, "D", color="#ff9800", size=9.4, weight="bold", ha="center")
for x, s in ((400, "O"), (449, "H"), (496, "L"), (541, "C")):
    ptext(x, 17, s)
for x, s in ((411, "78.88"), (460, "79.20"), (504.5, "78.56"), (550, "78.61"),
             (587, "\u22120.03 (\u22120.04%)")):
    ptext(x, 17, s, color="#f23645")
ptext(10, 40.7, "Vol")
ptext(37, 40.7, "843.05 K", color="#f7666b")
ptext(10, 64.7, "BB")
ptext(29, 64.7, "20 close 2", color=MUTED)
ptext(96, 64.7, "80.04", color="#8f2b33")
ptext(133, 64.7, "82.47", color="#22918e")
ptext(170, 64.7, "77.61", color="#22918e")
ptext(10, 88.7, "MA")
ptext(33.5, 88.7, "50 close", color=MUTED)
ptext(89, 88.7, "77.84", color="#3d82b0")
ptext(10, 112.7, "MA")
ptext(33.5, 112.7, "200 close", color=MUTED)
ptext(96, 112.7, "73.05", color="#3d82b0")
pbox(10.5, 128.5, 38.5, 148.5, "white", edge="#dfe1e6", radius=3, lw=0.8, z=24)
pline([21.5, 24.5, 27.5], [140.5, 137.5, 140.5], INK, 1.0, z=26)
ptext(10, 802.7, "RSI")
ptext(32.5, 802.7, "14 close", color=MUTED)
ptext(88, 802.7, "45.41", color="#9c27b0")
ptext(10, 1196, "MACD")
ptext(50, 1196, "12 26 close 9", color=MUTED)
ptext(132, 1196, "\u22120.3832", color="#f50c6c")
ptext(186, 1196, "0.4670", color=MACD_BLUE)
ptext(231, 1196, "0.8502", color="#f57c1f")

# Brand badge and settings icon
fig.add_artist(Circle((30.6, H - 1539), 16, facecolor="white", edgecolor="#e8eaee", linewidth=1.1,
                      transform=IdentityTransform(), zorder=24))
for pts in ([(20, 1533), (29.5, 1533), (29.5, 1545), (24.5, 1545), (24.5, 1538), (20, 1538)],
            [(30, 1545), (36, 1533), (42, 1533), (36, 1545)]):
    fig.add_artist(Polygon([(x, H - y) for x, y in pts], closed=True, facecolor="#111",
                           edgecolor="none", transform=IdentityTransform(), zorder=25))
fig.add_artist(Circle((32.5, H - 1535.5), 2.5, facecolor="#111", edgecolor="none",
                      transform=IdentityTransform(), zorder=25))
fig.add_artist(RegularPolygon((1888, H - 1585), 6, radius=8.2, orientation=np.pi / 6, facecolor="none",
                              edgecolor=INK, linewidth=0.9, transform=IdentityTransform(), zorder=25))
fig.add_artist(Circle((1888, H - 1585), 2.4, facecolor="none", edgecolor=INK, linewidth=0.9,
                      transform=IdentityTransform(), zorder=25))

fig.savefig("out.png", dpi=100, facecolor="white")
